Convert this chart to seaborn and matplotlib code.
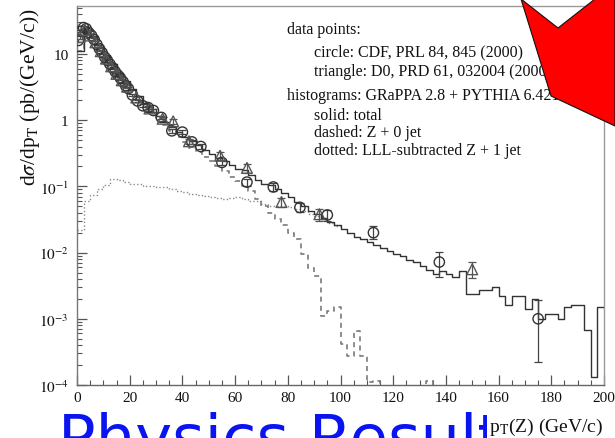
import numpy as np
import matplotlib
matplotlib.use("Agg")
import matplotlib.pyplot as plt
import seaborn as sns
from matplotlib.patches import Polygon
from matplotlib.ticker import FixedLocator, MultipleLocator, LogLocator, NullFormatter

# ---------------- data ----------------
# CDF (circles)
cdf_pt = [0.5, 1.5, 2.5, 3.5, 4.5, 5.5, 6.5, 7.5, 8.5, 9.5, 10.5, 11.5, 12.5, 13.5,
          14.5, 15.5, 16.5, 17.5, 18.5, 19.5, 21, 23, 25, 27, 29, 32, 36, 40, 43.6,
          47, 55, 64.5, 74.5, 84.6, 95, 112.5, 137.5, 175]
cdf_val = [16, 22, 25, 24, 21, 19, 16.5, 14, 12, 10.5, 9, 8, 7, 6.2, 5.4, 4.8, 4.3,
           3.8, 3.3, 3.0, 2.4, 1.95, 1.65, 1.55, 1.4, 1.1, 0.69, 0.66, 0.47, 0.40,
           0.23, 0.116, 0.098, 0.048, 0.037, 0.020, 0.0072, 0.001]
cdf_err_dn = [0.04, 0.04, 0.04, 0.04, 0.04, 0.04, 0.04, 0.04, 0.04, 0.04, 0.04, 0.04,
              0.04, 0.04, 0.04, 0.04, 0.04, 0.05, 0.05, 0.05, 0.05, 0.05, 0.05, 0.05,
              0.05, 0.06, 0.07, 0.07, 0.08, 0.08, 0.10, 0.13, 0.14, 0.15, 0.20, 0.20,
              0.40, 0.78]
cdf_err_up = [0.04, 0.04, 0.04, 0.04, 0.04, 0.04, 0.04, 0.04, 0.04, 0.04, 0.04, 0.04,
              0.04, 0.04, 0.04, 0.04, 0.04, 0.05, 0.05, 0.05, 0.05, 0.05, 0.05, 0.05,
              0.05, 0.06, 0.07, 0.07, 0.08, 0.08, 0.10, 0.13, 0.14, 0.15, 0.20, 0.25,
              0.42, 0.90]

# D0 (triangles)
d0_pt = [1, 3, 5, 7, 9, 11, 13, 15, 17, 19, 22.5, 27.5, 32.5, 36.5, 42.5, 54.3,
         64.5, 77.6, 92, 150]
d0_val = [18, 23, 19, 15, 11, 8.5, 6.5, 5.0, 4.0, 3.2, 2.2, 1.5, 1.05, 0.96, 0.48,
          0.29, 0.19, 0.058, 0.038, 0.0056]
d0_err = [0.05, 0.05, 0.05, 0.05, 0.05, 0.05, 0.05, 0.05, 0.05, 0.05, 0.06, 0.07,
          0.08, 0.10, 0.10, 0.14, 0.15, 0.15, 0.20, 0.27]

# Histograms, 2.5 GeV/c bins starting at 0
bin_width = 2.5
solid_total = [11, 23, 18.5, 13.5, 9.5, 7.0, 5.2, 3.9, 3.0, 2.3, 1.8, 1.45, 1.15,
               0.95, 0.78, 0.66, 0.56, 0.48, 0.42, 0.36, 0.31, 0.27, 0.24, 0.21,
               0.185, 0.175, 0.15, 0.125, 0.11, 0.105, 0.092, 0.08, 0.07, 0.058,
               0.05, 0.043, 0.038, 0.033, 0.029, 0.026, 0.023, 0.020, 0.017, 0.016,
               0.0145, 0.013, 0.0118, 0.0105, 0.0095, 0.0088, 0.0078, 0.0072,
               0.0062, 0.0055, 0.0048, 0.0053, 0.0047, 0.0043, 0.0053, 0.0024,
               0.0024, 0.0027, 0.0027, 0.0030, 0.0022, 0.0016, 0.0022, 0.0022,
               0.0014, 0.0020, 0.0010, 0.00118, 0.00118, 0.0010, 0.0015, 0.0016,
               0.0016, 0.00068, 0.000132, 0.0015]
dashed_z0jet = [10.9, 22.9, 18.4, 13.4, 9.4, 6.9, 5.1, 3.8, 2.9, 2.2, 1.7, 1.35,
                1.05, 0.85, 0.68, 0.56, 0.46, 0.38, 0.33, 0.28, 0.24, 0.20, 0.17,
                0.14, 0.12, 0.10, 0.085, 0.065, 0.05, 0.04, 0.032, 0.026, 0.020,
                0.016, 0.0095, 0.0058, 0.0045, 0.0011, 0.0013, 0.0015, 0.00042,
                0.00027, 0.00066, 0.00027, 0.00011, 0.000115, 0.00001, 0.00001,
                0.00001, 0.00001, 0.00001, 0.00001, 0.00001, 0.000115, 0.00001]
dotted_z1jet = [0.022, 0.06, 0.075, 0.09, 0.105, 0.13, 0.125, 0.115, 0.11, 0.108,
                0.10, 0.10, 0.097, 0.097, 0.09, 0.085, 0.082, 0.078, 0.074, 0.071,
                0.068, 0.066, 0.064, 0.066, 0.069, 0.065, 0.06, 0.06, 0.055, 0.05,
                0.05, 0.05, 0.049, 0.045, 0.042, 0.038, 0.036, 0.032, 0.028, 0.025]

x_ticks = [0, 20, 40, 60, 80, 100, 120, 140, 160, 180, 200]
y_ticks = [1e1, 1e0, 1e-1, 1e-2, 1e-3, 1e-4]
y_ticklabels = ["10", "1", r"$10^{-1}$", r"$10^{-2}$", r"$10^{-3}$", r"$10^{-4}$"]

legend_lines = [
    ("data points:", 287, 30),
    ("circle: CDF, PRL 84, 845 (2000)", 314, 52),
    ("triangle: D0, PRD 61, 032004 (2000)", 314, 72),
    ("histograms: GRaPPA 2.8 + PYTHIA 6.421", 287, 96),
    ("solid: total", 314, 116),
    ("dashed: Z + 0 jet", 314, 133),
    ("dotted: LLL-subtracted Z + 1 jet", 314, 151),
]

# ---------------- style ----------------
sns.set_theme(style="ticks")
plt.rcParams["font.family"] = ["Liberation Serif", "DejaVu Serif"]
plt.rcParams["mathtext.fontset"] = "stix"

W, H = 615, 439
fig = plt.figure(figsize=(W / 100, H / 100), dpi=100)
fig.patch.set_facecolor("white")


def fx(px):
    return px / W


def fy(py):
    return 1 - py / H


ax = fig.add_axes([fx(77), fy(386), fx(604) - fx(77), fy(7) - fy(386)])
ax.set_facecolor("white")


def stair(values, color, ls, lw, z):
    vals = np.asarray(values, dtype=float)
    edges = np.arange(len(vals) + 1) * bin_width
    yy = np.append(vals, vals[-1])
    sns.lineplot(x=edges, y=yy, drawstyle="steps-post", estimator=None, sort=False,
                 color=color, linestyle=ls, linewidth=lw, ax=ax, zorder=z)


stair(dotted_z1jet, "#8a8a8a", (0, (1, 1.6)), 1.0, 2)
stair(dashed_z0jet, "#7a7a7a", (0, (3, 2.5)), 1.2, 2)
stair(solid_total, "#333333", "-", 1.0, 3)

# data points
cdf_val_a = np.array(cdf_val)
cdf_yerr = [cdf_val_a * np.array(cdf_err_dn), cdf_val_a * np.array(cdf_err_up)]
ax.errorbar(cdf_pt, cdf_val, yerr=cdf_yerr, fmt="none", ecolor="#444444",
            elinewidth=0.9, capsize=3, capthick=0.9, zorder=4)
d0_val_a = np.array(d0_val)
ax.errorbar(d0_pt, d0_val, yerr=d0_val_a * np.array(d0_err), fmt="none",
            ecolor="#555555", elinewidth=0.9, capsize=3, capthick=0.9, zorder=4)

sns.scatterplot(x=cdf_pt, y=cdf_val, marker="o", s=55, facecolor="none",
                edgecolor="#333333", linewidth=1.0, ax=ax, zorder=5)
sns.scatterplot(x=d0_pt, y=d0_val, marker="^", s=60, facecolor="none",
                edgecolor="#555555", linewidth=1.0, ax=ax, zorder=5)

ax.set_yscale("log")
ax.set_xlim(0, 200)
ax.set_ylim(1e-4, 53)

ax.xaxis.set_major_locator(FixedLocator(x_ticks))
ax.xaxis.set_minor_locator(MultipleLocator(5))
ax.yaxis.set_major_locator(FixedLocator(y_ticks))
ax.set_yticklabels(y_ticklabels)
ax.yaxis.set_minor_locator(LogLocator(base=10, subs=np.arange(2, 10)))
ax.yaxis.set_minor_formatter(NullFormatter())
ax.set_xticklabels([str(t) for t in x_ticks])

ax.tick_params(which="both", direction="in", colors="#555555", labelcolor="#111111",
               labelsize=11)
ax.tick_params(which="major", length=7, width=0.9)
ax.tick_params(which="minor", length=3.5, width=0.8)
ax.tick_params(axis="y", pad=6)
ax.tick_params(axis="x", pad=4)
for s in ax.spines.values():
    s.set_color("#9a9a9a")
    s.set_linewidth(1.0)
ax.spines["bottom"].set_color("#666666")
ax.spines["left"].set_color("#777777")
ax.set_xlabel("")
ax.set_ylabel("")

# legend-like annotations
for txt, px, py in legend_lines:
    fig.text(fx(px), fy(py), txt, fontsize=11.5, color="#111111", va="center",
             ha="left")

# axis titles
fig.text(fx(30), fy(97), r"d$\sigma$/dp$_{\mathrm{T}}$ (pb/(GeV/c))", rotation=90,
         fontsize=15.5, ha="center", va="center", color="#111111")

# slide overlay text (cut by the slide's bottom edge, as in the reference)
fig.text(fx(58), fy(412), "Physics Results", color="#0a14f0", fontsize=45,
         ha="left", va="top", family="DejaVu Sans", zorder=6)
fig.text(fx(603), fy(427), r"p$_{\mathrm{T}}$(Z) (GeV/c)", fontsize=14,
         ha="right", va="center", color="#111111", zorder=7,
         bbox=dict(boxstyle="square,pad=0.1", fc="white", ec="none"))

# red arrow overlay
arrow_px = [(521, 0), (558, 29), (595, 0), (615, 0), (615, 127), (551, 97)]
arrow = Polygon([(fx(a), fy(b)) for a, b in arrow_px], closed=True,
                transform=fig.transFigure, facecolor="#ff0000", edgecolor="#111111",
                linewidth=0.8, zorder=10)
fig.add_artist(arrow)

fig.savefig("out.png", dpi=100)
